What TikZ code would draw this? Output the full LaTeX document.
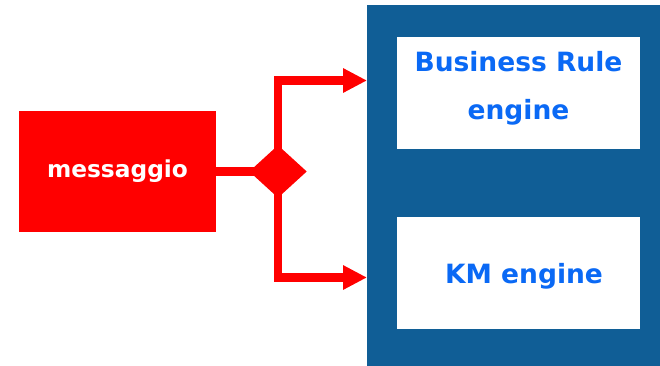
\documentclass[tikz,border=0pt]{standalone}
\usepackage{fontspec}
\setmainfont{DejaVu Sans}
\usetikzlibrary{shapes.geometric,arrows.meta}
\definecolor{msgred}{RGB}{255,0,0}
\definecolor{contblue}{RGB}{16,94,150}
\definecolor{txtblue}{RGB}{10,105,245}
\tikzset{
  redbox/.style={fill=msgred, draw=none, minimum width=197pt, minimum height=121pt, inner sep=0pt, text=white, font=\fontsize{23.3}{28}\selectfont\bfseries},
  whitebox/.style={fill=white, draw=none, minimum width=243pt, minimum height=112pt, inner sep=0pt},
  bluetxt/.style={text=txtblue, font=\fontsize{26.5}{31}\selectfont\bfseries, inner sep=0pt, anchor=base},
  conn/.style={draw=msgred, line width=8.5pt, line join=miter},
  arr/.style={conn, -{Triangle[length=24pt,width=23pt]}},
}
\begin{document}
\begin{tikzpicture}[x=1pt,y=-1pt]
\useasboundingbox (0,0) rectangle (660,366);
\fill[white] (0,0) rectangle (660,366);
% container
\node[fill=contblue, draw=none, inner sep=0pt, minimum width=293pt, minimum height=361pt] (cont) at (513.5,185.5) {};
\node[whitebox] (br) at (518.5,93) {};
\node[whitebox] (km) at (518.5,273) {};
\node[bluetxt] (brt1) at (518.5,71.7) {Business Rule};
\node[bluetxt] (brt2) at (518.5,120) {engine};
\node[bluetxt] (kmt) at (524,283.3) {KM engine};
% message
\node[redbox] (msg) at (117.5,171.5) {messaggio};
\node[diamond, draw=none, inner sep=0pt, minimum width=57pt, minimum height=52pt] (dia) at (278,171.5) {};
\coordinate (t1) at (367,80.5);
\coordinate (t2) at (367,277.5);
\draw[conn] (msg.east) -- (dia.center);
\draw[arr] (dia.center) |- (t1);
\draw[arr] (dia.center) |- (t2);
\fill[msgred] (dia.north) -- (dia.east) -- (dia.south) -- (dia.west) -- cycle;
\end{tikzpicture}
\end{document}
